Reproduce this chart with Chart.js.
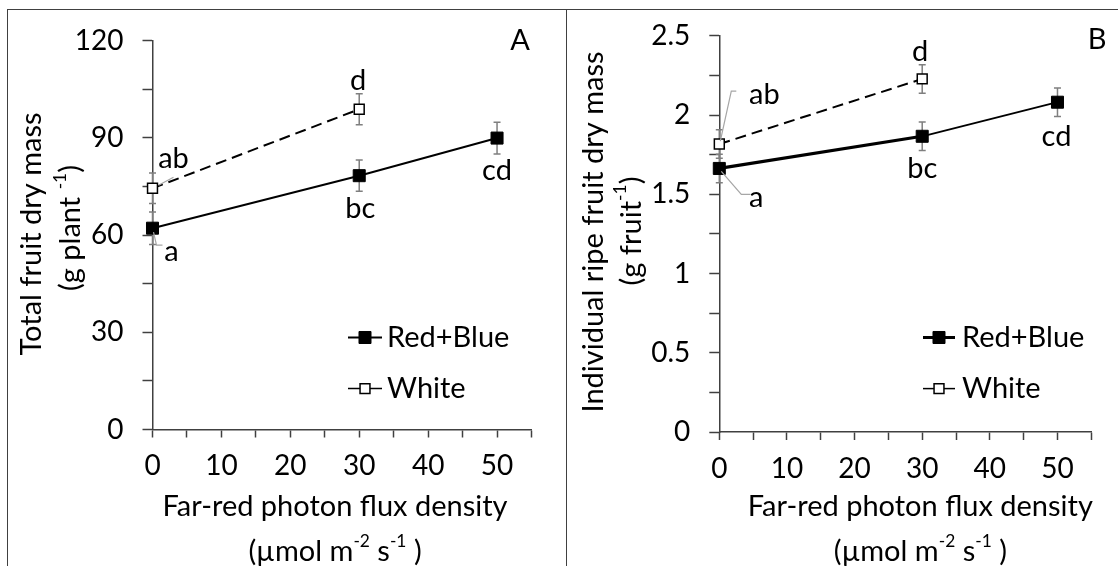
<!DOCTYPE html>
<html>
<head>
<meta charset="utf-8">
<script src="https://cdn.jsdelivr.net/npm/chart.js@4.4.1/dist/chart.umd.min.js"></script>
<style>
  html, body { margin: 0; padding: 0; background: #fff; }
  body { width: 1118px; height: 566px; position: relative; overflow: hidden; }
  .frame { position: absolute; left: 7px; top: 9px; right: -2px; bottom: -2px;
           border-top: 1.5px solid #404040; border-left: 1.5px solid #404040; }
  .divider { position: absolute; left: 566px; top: 9px; bottom: 0; width: 0;
             border-left: 1.5px solid #404040; }
  canvas { position: absolute; top: 0; }
  #chartA { left: 0; }
  #chartB { left: 566px; }
</style>
</head>
<body>
<div class="frame"></div>
<div class="divider"></div>
<canvas id="chartA" width="566" height="566"></canvas>
<canvas id="chartB" width="552" height="566"></canvas>
<script>
// far-red PFD (umol m-2 s-1)
const farRedRB = [0, 30, 50];
const farRedWhite = [0, 30];

// panel A: total fruit dry mass (g plant-1)
const totalRB = [62.1, 78.3, 89.9];
const totalRBErr = [5.0, 4.8, 4.9];
const totalWhite = [74.4, 98.8];
const totalWhiteErr = [4.7, 4.8];
const totalRBLetters = ["a", "bc", "cd"];
const totalWhiteLetters = ["ab", "d"];

// panel B: individual ripe fruit dry mass (g fruit-1)
const indivRB = [1.663, 1.866, 2.081];
const indivRBErr = [0.09, 0.09, 0.09];
const indivWhite = [1.817, 2.228];
const indivWhiteErr = [0.09, 0.09];
const indivRBLetters = ["a", "bc", "cd"];
const indivWhiteLetters = ["ab", "d"];

// tick labels
const xTickLabels = ["0", "10", "20", "30", "40", "50"];
const yTickLabelsA = ["0", "30", "60", "90", "120"];
const yTickLabelsB = ["0", "0.5", "1", "1.5", "2", "2.5"];

const FONT = "Lato";
const FS = 29;      // titles, legend, letters
const TICK_FS = 28;
const axisColor = "#404040";
const leaderColor = "#a6a6a6";

function pairs(xs, ys) {
  return xs.map((x, i) => ({ x: x, y: ys[i] }));
}

function pickLabel(list) {
  return (v) => {
    const hit = list.find((l) => Math.abs(Number(l) - v) < 1e-6);
    return hit === undefined ? "" : hit;
  };
}

function drawRich(ctx, parts, cx, cy, rotate) {
  ctx.save();
  ctx.translate(cx, cy);
  if (rotate) ctx.rotate(-Math.PI / 2);
  ctx.textBaseline = "middle";
  ctx.textAlign = "left";
  ctx.fillStyle = "#000";
  let w = 0;
  parts.forEach((p) => {
    ctx.font = (p.sup ? FS * 0.6 : FS) + "px " + FONT;
    w += ctx.measureText(p.t).width;
  });
  let x = -w / 2;
  parts.forEach((p) => {
    ctx.font = (p.sup ? FS * 0.6 : FS) + "px " + FONT;
    ctx.fillText(p.t, x, p.sup ? -FS * 0.36 : 0);
    x += ctx.measureText(p.t).width;
  });
  ctx.restore();
}

const decor = {
  id: "decor",
  beforeDatasetsDraw(chart) {
    const ctx = chart.ctx;
    const ys = chart.scales.y;
    ctx.save();
    ctx.strokeStyle = "#7f7f7f";
    ctx.lineWidth = 1.5;
    chart.data.datasets.forEach((ds, di) => {
      const meta = chart.getDatasetMeta(di);
      meta.data.forEach((pt, i) => {
        const v = ds.data[i].y;
        const top = ys.getPixelForValue(v + ds.errors[i]);
        const bot = ys.getPixelForValue(v - ds.errors[i]);
        ctx.beginPath();
        ctx.moveTo(pt.x, top); ctx.lineTo(pt.x, bot);
        ctx.moveTo(pt.x - 3.5, top); ctx.lineTo(pt.x + 3.5, top);
        ctx.moveTo(pt.x - 3.5, bot); ctx.lineTo(pt.x + 3.5, bot);
        ctx.stroke();
      });
    });
    ctx.restore();
  },
  afterDatasetsDraw(chart, args, opts) {
    const ctx = chart.ctx;
    ctx.save();
    // leader lines for the letters near the axis
    ctx.strokeStyle = leaderColor;
    ctx.lineWidth = 1.2;
    opts.leaders.forEach((ld) => {
      const pt = chart.getDatasetMeta(ld.ds).data[ld.idx];
      ctx.beginPath();
      ld.pts.forEach((p, k) => {
        if (k === 0) ctx.moveTo(pt.x + p[0], pt.y + p[1]);
        else ctx.lineTo(pt.x + p[0], pt.y + p[1]);
      });
      ctx.stroke();
    });
    // significance letters
    ctx.fillStyle = "#000";
    ctx.font = FS + "px " + FONT;
    ctx.textAlign = "center";
    ctx.textBaseline = "middle";
    opts.letters.forEach((lt) => {
      const ds = chart.data.datasets[lt.ds];
      const pt = chart.getDatasetMeta(lt.ds).data[lt.idx];
      ctx.fillText(ds.letters[lt.idx], pt.x + lt.dx, pt.y + lt.dy);
    });
    // panel letter
    ctx.fillText(opts.panel.text, opts.panel.x, opts.panel.y);
    // legend
    const lg = opts.legend;
    chart.data.datasets.forEach((ds, di) => {
      const y = lg.ys[di];
      ctx.strokeStyle = "#000";
      ctx.lineWidth = lg.widths[di];
      ctx.setLineDash([]);
      ctx.beginPath();
      ctx.moveTo(lg.x1, y); ctx.lineTo(lg.x2, y);
      ctx.stroke();
      ctx.fillStyle = ds.pointBackgroundColor;
      ctx.strokeStyle = ds.pointBorderColor;
      ctx.lineWidth = ds.pointBorderWidth;
      Chart.helpers.drawPoint(ctx, {
        pointStyle: "rect", radius: ds.pointRadius, rotation: 0,
        borderWidth: ds.pointBorderWidth
      }, (lg.x1 + lg.x2) / 2, y);
      ctx.fillStyle = "#000";
      ctx.font = FS + "px " + FONT;
      ctx.textAlign = "left";
      ctx.textBaseline = "middle";
      ctx.fillText(ds.label, lg.xText, y);
    });
    // axis titles
    const t = opts.titles;
    drawRich(ctx, t.y1, t.y1x, t.y1y, true);
    drawRich(ctx, t.y2, t.y2x, t.y2y, true);
    drawRich(ctx, t.x1, t.xx, t.x1y, false);
    drawRich(ctx, t.x2, t.xx, t.x2y, false);
    ctx.restore();
  }
};

function makeChart(id, cfg) {
  const tickFont = { family: FONT, size: TICK_FS };
  return new Chart(document.getElementById(id), {
    type: "line",
    data: {
      datasets: [
        {
          label: "Red+Blue",
          data: pairs(farRedRB, cfg.rb),
          errors: cfg.rbErr,
          letters: cfg.rbLetters,
          borderColor: "#000",
          borderWidth: 2,
          segment: { borderWidth: cfg.rbSegWidth },
          pointStyle: "rect",
          pointRadius: 8.5,
          pointBackgroundColor: "#000",
          pointBorderColor: "#000",
          pointBorderWidth: 1,
          clip: false
        },
        {
          label: "White",
          data: pairs(farRedWhite, cfg.w),
          errors: cfg.wErr,
          letters: cfg.wLetters,
          borderColor: "#000",
          borderWidth: 2,
          borderDash: [11, 6],
          pointStyle: "rect",
          pointRadius: 7,
          pointBackgroundColor: "#fff",
          pointBorderColor: "#000",
          pointBorderWidth: 1.5,
          clip: false
        }
      ]
    },
    options: {
      responsive: false,
      animation: false,
      layout: { padding: { left: 0, top: cfg.top, right: cfg.right, bottom: 0 } },
      scales: {
        x: {
          type: "linear", min: 0, max: 55,
          afterFit: (s) => { s.height = cfg.xHeight; },
          border: { display: true, color: axisColor, width: 1.5 },
          grid: { drawOnChartArea: false, drawTicks: true, tickLength: 8, tickColor: axisColor, tickWidth: 1.5 },
          ticks: { stepSize: 5, autoSkip: false, maxRotation: 0, padding: 12, color: "#000",
                   font: tickFont, callback: pickLabel(xTickLabels) }
        },
        y: {
          min: 0, max: cfg.yMax,
          afterFit: (s) => { s.width = cfg.yWidth; },
          border: { display: true, color: axisColor, width: 1.5 },
          grid: { drawOnChartArea: false, drawTicks: true, tickLength: 10, tickColor: axisColor, tickWidth: 1.5 },
          ticks: { stepSize: cfg.yStep, autoSkip: false, padding: 19, color: "#000",
                   font: tickFont, callback: pickLabel(cfg.yLabels) }
        }
      },
      plugins: {
        legend: { display: false },
        tooltip: { enabled: false },
        decor: cfg.decor
      }
    },
    plugins: [decor]
  });
}

const xTitle1 = [{ t: "Far-red photon flux density" }];
const xTitle2 = [{ t: "(\u00b5mol m" }, { t: "-2", sup: true }, { t: " s" }, { t: "-1", sup: true }, { t: " )" }];

makeChart("chartA", {
  rb: totalRB, rbErr: totalRBErr, rbLetters: totalRBLetters,
  w: totalWhite, wErr: totalWhiteErr, wLetters: totalWhiteLetters,
  rbSegWidth: 2,
  yMax: 120, yStep: 15, yLabels: yTickLabelsA,
  top: 40.5, right: 34.5, xHeight: 136.5, yWidth: 152.5,
  decor: {
    letters: [
      { ds: 0, idx: 0, dx: 19, dy: 23 },
      { ds: 0, idx: 1, dx: 1, dy: 33 },
      { ds: 0, idx: 2, dx: 0, dy: 33 },
      { ds: 1, idx: 0, dx: 21, dy: -30 },
      { ds: 1, idx: 1, dx: -1, dy: -29 }
    ],
    leaders: [
      { ds: 1, idx: 0, pts: [[6, -3], [21, -11]] },
      { ds: 0, idx: 0, pts: [[1, 4], [4, 17], [10, 17]] }
    ],
    panel: { text: "A", x: 520, y: 41 },
    legend: { x1: 348, x2: 382, xText: 387, ys: [337.5, 388.6], widths: [2, 1.5] },
    titles: {
      y1: [{ t: "Total fruit dry mass" }], y1x: 32, y1y: 234,
      y2: [{ t: "(g plant " }, { t: "-1", sup: true }, { t: ")" }], y2x: 71, y2y: 228,
      x1: xTitle1, x2: xTitle2, xx: 335, x1y: 507, x2y: 552
    }
  }
});

makeChart("chartB", {
  rb: indivRB, rbErr: indivRBErr, rbLetters: indivRBLetters,
  w: indivWhite, wErr: indivWhiteErr, wLetters: indivWhiteLetters,
  rbSegWidth: (c) => (c.p0DataIndex === 0 ? 3.2 : 1.8),
  yMax: 2.5, yStep: 0.25, yLabels: yTickLabelsB,
  top: 34, right: 26.7, xHeight: 134, yWidth: 153.3,
  decor: {
    letters: [
      { ds: 0, idx: 0, dx: 37, dy: 29 },
      { ds: 0, idx: 1, dx: 0, dy: 32 },
      { ds: 0, idx: 2, dx: -1, dy: 34 },
      { ds: 1, idx: 0, dx: 45, dy: -49 },
      { ds: 1, idx: 1, dx: -2, dy: -27 }
    ],
    leaders: [
      { ds: 1, idx: 0, pts: [[1, -3], [12, -53], [17, -53]] },
      { ds: 0, idx: 0, pts: [[2, 3], [22, 26], [31, 26]] }
    ],
    panel: { text: "B", x: 531, y: 40 },
    legend: { x1: 357, x2: 389, xText: 396, ys: [337.5, 388.6], widths: [3, 1.5] },
    titles: {
      y1: [{ t: "Individual ripe fruit dry mass" }], y1x: 28, y1y: 232,
      y2: [{ t: "(g fruit" }, { t: "-1", sup: true }, { t: ")" }], y2x: 65.2, y2y: 231,
      x1: xTitle1, x2: xTitle2, xx: 354.3, x1y: 507, x2y: 552
    }
  }
});
</script>
</body>
</html>
